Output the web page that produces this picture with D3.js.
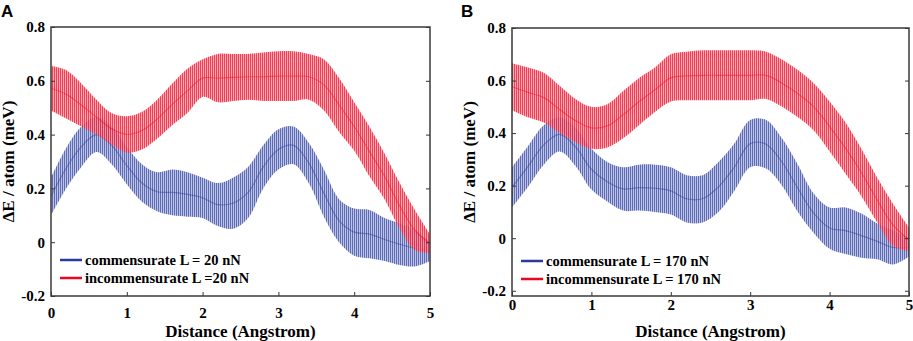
<!DOCTYPE html>
<html>
<head>
<meta charset="utf-8">
<script src="https://cdnjs.cloudflare.com/ajax/libs/d3/7.8.5/d3.min.js"></script>
<style>
  body { margin: 0; background: #fff; }
  svg { display: block; }
</style>
</head>
<body>
<script>
// DATA (envelope of the oscillating energy traces)
const distance = [0, 0.2, 0.4, 0.6, 0.8, 1.0, 1.2, 1.4, 1.6, 1.8, 2.0, 2.2, 2.4,
                  2.6, 2.8, 3.0, 3.2, 3.4, 3.6, 3.8, 4.0, 4.2, 4.4, 4.6, 4.8, 5.0];

// panel A, L = 20 nN
const commA_hi = [0.24, 0.35, 0.43, 0.465, 0.43, 0.355, 0.29, 0.26, 0.27, 0.26, 0.24, 0.22, 0.24,
                  0.28, 0.36, 0.42, 0.43, 0.37, 0.27, 0.16, 0.125, 0.12, 0.09, 0.07, 0.045, 0.0];
const commA_lo = [0.10, 0.20, 0.28, 0.335, 0.29, 0.215, 0.15, 0.115, 0.10, 0.095, 0.09, 0.06, 0.05,
                  0.09, 0.20, 0.27, 0.29, 0.22, 0.095, 0.0, -0.05, -0.06, -0.07, -0.085, -0.09, -0.07];
const incoA_hi = [0.655, 0.64, 0.59, 0.53, 0.48, 0.468, 0.485, 0.53, 0.59, 0.645, 0.68, 0.70, 0.70,
                  0.70, 0.705, 0.71, 0.71, 0.70, 0.68, 0.61, 0.52, 0.43, 0.33, 0.22, 0.12, 0.03];
const incoA_lo = [0.49, 0.46, 0.43, 0.40, 0.363, 0.333, 0.345, 0.385, 0.435, 0.48, 0.54, 0.52, 0.525,
                  0.53, 0.525, 0.525, 0.525, 0.53, 0.49, 0.41, 0.34, 0.245, 0.16, 0.05, -0.03, -0.04];

// panel B, L = 170 nN
const commB_hi = [0.27, 0.35, 0.43, 0.46, 0.42, 0.34, 0.29, 0.27, 0.28, 0.28, 0.27, 0.24, 0.24,
                  0.29, 0.36, 0.45, 0.45, 0.38, 0.28, 0.17, 0.117, 0.117, 0.094, 0.056, 0.029, 0.0];
const commB_lo = [0.117, 0.195, 0.28, 0.33, 0.275, 0.185, 0.14, 0.105, 0.105, 0.10, 0.09, 0.06, 0.06,
                  0.10, 0.18, 0.27, 0.265, 0.20, 0.10, 0.02, -0.04, -0.06, -0.074, -0.08, -0.10, -0.07];
const incoB_hi = [0.666, 0.65, 0.63, 0.58, 0.53, 0.50, 0.51, 0.56, 0.61, 0.65, 0.70, 0.71, 0.715,
                  0.715, 0.715, 0.715, 0.71, 0.68, 0.64, 0.59, 0.52, 0.44, 0.34, 0.23, 0.13, 0.04];
const incoB_lo = [0.487, 0.46, 0.44, 0.40, 0.365, 0.34, 0.345, 0.38, 0.43, 0.48, 0.52, 0.525, 0.525,
                  0.525, 0.525, 0.525, 0.53, 0.50, 0.46, 0.41, 0.33, 0.245, 0.16, 0.06, -0.03, -0.05];

const xTicks = [0, 1, 2, 3, 4, 5];
const yTicks = [-0.2, 0, 0.2, 0.4, 0.6, 0.8];
const xTitle = "Distance (Angstrom)";
const yTitle = "ΔE / atom (meV)";

// USEFUL VARIABLES
const svgwidth = 913;
const svgheight = 341;
const serif = "'Liberation Serif', 'Times New Roman', serif";
const BLUE = "#2a3a9c", BLUE_LIGHT = "#a3acdb";
const RED = "#ec0520", RED_LIGHT = "#f98a97";

const svg = d3.select("body").append("svg")
    .attr("width", svgwidth)
    .attr("height", svgheight);

// STRIPE PATTERNS (the dense vertical oscillation of the traces)
const defs = svg.append("defs");
const stripe = (id, light, dark) => {
    const p = defs.append("pattern").attr("id", id)
        .attr("patternUnits", "userSpaceOnUse")
        .attr("width", 2).attr("height", 6);
    p.append("rect").attr("width", 2).attr("height", 6).attr("fill", light).attr("fill-opacity", 0.7);
    p.append("rect").attr("width", 1).attr("height", 6).attr("fill", dark).attr("fill-opacity", 0.65);
};
stripe("stripe-blue", BLUE_LIGHT, BLUE);
stripe("stripe-red", RED_LIGHT, RED);

const fmtY = d => d === 0 ? "0" : d3.format(".1f")(d).replace("−", "-");
const fmtX = d => String(d);

const panels = [
    { id: "A", letterX: 1, left: 51, right: 430, top: 27, bottom: 296, yDomain: [-0.2, 0.8],
      xLabelY: 313, yTitleX: 8,
      series: [
        { lo: commA_lo, hi: commA_hi, color: BLUE, fill: "stripe-blue", label: "commensurate L = 20 nN" },
        { lo: incoA_lo, hi: incoA_hi, color: RED, fill: "stripe-red", label: "incommensurate L =20 nN" }
      ] },
    { id: "B", letterX: 461, left: 512, right: 909, top: 28, bottom: 296, yDomain: [-0.22, 0.8],
      xLabelY: 305, yTitleX: 469,
      series: [
        { lo: commB_lo, hi: commB_hi, color: BLUE, fill: "stripe-blue", label: "commensurate L = 170 nN" },
        { lo: incoB_lo, hi: incoB_hi, color: RED, fill: "stripe-red", label: "incommensurate L = 170 nN" }
      ] }
];

panels.forEach(P => {
    const X = d3.scaleLinear().domain([0, 5]).range([P.left, P.right]);
    const Y = d3.scaleLinear().domain(P.yDomain).range([P.bottom, P.top]);

    // PANEL LETTER
    svg.append("text")
        .attr("x", P.letterX).attr("y", 17)
        .attr("font-family", "Arial, 'Liberation Sans', sans-serif")
        .attr("font-weight", "bold").attr("font-size", 17)
        .text(P.id);

    // CLIP
    svg.append("clipPath").attr("id", "clip-" + P.id)
        .append("rect")
        .attr("x", P.left).attr("y", P.top)
        .attr("width", P.right - P.left).attr("height", P.bottom - P.top);

    const plot = svg.append("g").attr("clip-path", `url(#clip-${P.id})`);

    P.series.forEach(s => {
        const pts = distance.map((x, i) => ({ x: x, lo: s.lo[i], hi: s.hi[i] }));
        const band = d3.area()
            .x(d => X(d.x))
            .y0(d => Y(d.lo))
            .y1(d => Y(d.hi))
            .curve(d3.curveCatmullRom.alpha(0.5));
        const mid = d3.line()
            .x(d => X(d.x))
            .y(d => Y((d.lo + d.hi) / 2))
            .curve(d3.curveCatmullRom.alpha(0.5));
        plot.append("path").datum(pts)
            .attr("d", band)
            .attr("fill", `url(#${s.fill})`);
        plot.append("path").datum(pts)
            .attr("d", mid)
            .attr("fill", "none")
            .attr("stroke", s.color)
            .attr("stroke-opacity", 0.45)
            .attr("stroke-width", 1.2);
    });

    // AXES (MATLAB-like box with inward ticks)
    const axisFont = g => g.selectAll("text")
        .attr("font-family", serif).attr("font-weight", "bold")
        .attr("font-size", 15).attr("fill", "#000");

    svg.append("g")
        .attr("transform", `translate(0,${P.bottom})`)
        .call(d3.axisBottom(X).tickValues(xTicks).tickFormat(fmtX).tickSizeInner(-4).tickSizeOuter(0))
        .call(g => g.select(".domain").remove())
        .call(g => g.selectAll("line").attr("stroke", "#333"))
        .call(g => g.selectAll("text").attr("dy", "0.35em").attr("y", P.xLabelY - P.bottom))
        .call(axisFont);

    svg.append("g")
        .attr("transform", `translate(${P.left},0)`)
        .call(d3.axisLeft(Y).tickValues(yTicks).tickFormat(fmtY).tickSizeInner(-4).tickSizeOuter(0).tickPadding(6))
        .call(g => g.select(".domain").remove())
        .call(g => g.selectAll("line").attr("stroke", "#333"))
        .call(axisFont);

    svg.append("g")
        .attr("transform", `translate(${P.right},0)`)
        .call(d3.axisRight(Y).tickValues(yTicks).tickFormat("").tickSizeInner(-4).tickSizeOuter(0))
        .call(g => g.select(".domain").remove())
        .call(g => g.selectAll("line").attr("stroke", "#333"));

    svg.append("rect")
        .attr("x", P.left).attr("y", P.top)
        .attr("width", P.right - P.left).attr("height", P.bottom - P.top)
        .attr("fill", "none").attr("stroke", "#3a3a3a").attr("stroke-width", 1.5);

    // AXIS TITLES
    svg.append("text")
        .attr("x", (P.left + P.right) / 2).attr("y", 331)
        .attr("dy", "0.35em")
        .attr("text-anchor", "middle")
        .attr("font-family", serif).attr("font-weight", "bold").attr("font-size", 17)
        .text(xTitle);

    svg.append("text")
        .attr("transform", `translate(${P.yTitleX},${(P.top + P.bottom) / 2}) rotate(-90)`)
        .attr("dy", "0.35em")
        .attr("text-anchor", "middle")
        .attr("font-family", serif).attr("font-weight", "bold").attr("font-size", 17)
        .text(yTitle);

    // LEGEND
    const legend = svg.append("g");
    P.series.forEach((s, i) => {
        const ly = P.top + 233 + i * 18;
        legend.append("line")
            .attr("x1", P.left + 9).attr("x2", P.left + 31)
            .attr("y1", ly).attr("y2", ly)
            .attr("stroke", s.color).attr("stroke-width", 2.5);
        legend.append("text")
            .attr("x", P.left + 34).attr("y", ly)
            .attr("dy", "0.35em")
            .attr("font-family", serif).attr("font-weight", "bold").attr("font-size", 14.5)
            .text(s.label);
    });
});
</script>
</body>
</html>
